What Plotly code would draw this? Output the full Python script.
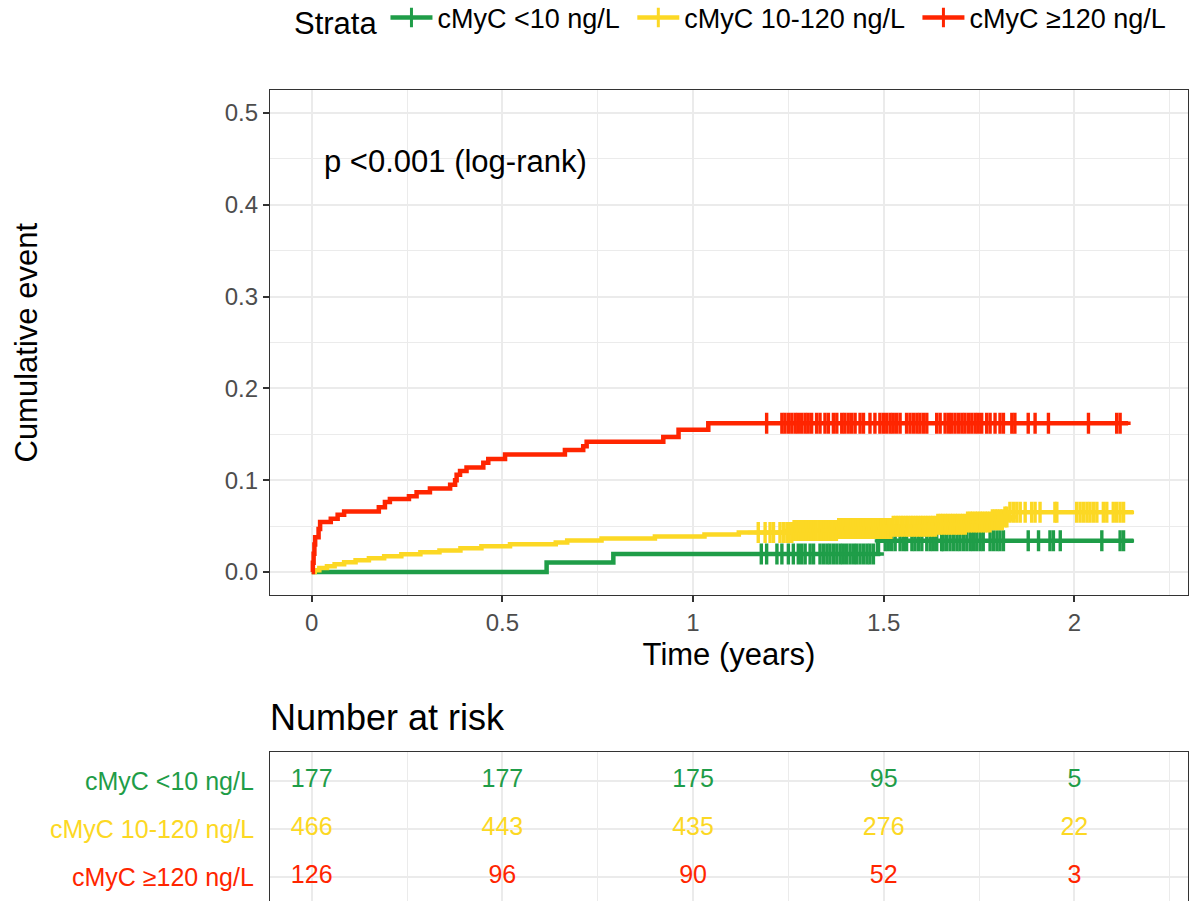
import numpy as np
import plotly.graph_objects as go

# ---- strata -------------------------------------------------------------
strata = ["cMyC <10 ng/L", "cMyC 10-120 ng/L", "cMyC ≥120 ng/L"]
colors = ["#1F9D48", "#FCD824", "#FF2500"]

# ---- cumulative event curves (event time, cumulative incidence) ---------
low_event_t = [0.616, 0.791, 1.485]
low_event_cum = [0.0103, 0.0196, 0.0340]
low_end = 2.155
low_censor = [1.179, 1.193, 1.220, 1.233, 1.250, 1.263, 1.276, 1.285, 1.294,
              1.307, 1.316, 1.333, 1.342, 1.351, 1.359, 1.368, 1.377, 1.386,
              1.394, 1.403, 1.412, 1.421, 1.429, 1.438, 1.447, 1.456, 1.464,
              1.473, 1.504, 1.512, 1.521, 1.530, 1.543, 1.552, 1.560, 1.574,
              1.582, 1.591, 1.600, 1.613, 1.622, 1.630, 1.639, 1.652, 1.656,
              1.665, 1.674, 1.683, 1.692, 1.700, 1.709, 1.718, 1.727, 1.735,
              1.744, 1.753, 1.761, 1.779, 1.788, 1.797, 1.805, 1.814, 1.879,
              1.906, 1.936, 1.945, 1.963, 2.072, 2.120, 2.129]

mid_event_t = [0.008, 0.020, 0.040, 0.060, 0.085, 0.115, 0.150, 0.190, 0.235,
               0.285, 0.335, 0.390, 0.445, 0.520, 0.640, 0.670, 0.760, 0.900,
               1.030, 1.120, 1.260, 1.380, 1.520, 1.640, 1.720, 1.780, 1.815,
               1.825]
mid_event_cum = [0.0021, 0.0043, 0.0064, 0.0086, 0.0107, 0.0129, 0.0150,
                 0.0172, 0.0193, 0.0215, 0.0236, 0.0258, 0.0280, 0.0302,
                 0.0323, 0.0345, 0.0366, 0.0388, 0.0410, 0.0431, 0.0453,
                 0.0475, 0.0498, 0.0521, 0.0545, 0.0570, 0.0600, 0.0650]
mid_end = 2.155
mid_censor = [1.171, 1.189, 1.202, 1.211, 1.228, 1.237, 1.246, 1.252, 1.259,
              1.265, 1.271, 1.278, 1.284, 1.291, 1.297, 1.304, 1.311, 1.317,
              1.323, 1.330, 1.337, 1.343, 1.350, 1.356, 1.362, 1.369, 1.376,
              1.382, 1.389, 1.395, 1.402, 1.408, 1.415, 1.421, 1.428, 1.434,
              1.441, 1.447, 1.454, 1.460, 1.467, 1.473, 1.480, 1.486, 1.493,
              1.499, 1.506, 1.512, 1.519, 1.525, 1.532, 1.538, 1.545, 1.551,
              1.558, 1.564, 1.571, 1.577, 1.584, 1.590, 1.597, 1.603, 1.610,
              1.616, 1.623, 1.629, 1.636, 1.642, 1.649, 1.655, 1.662, 1.668,
              1.675, 1.681, 1.688, 1.694, 1.701, 1.707, 1.714, 1.720, 1.727,
              1.733, 1.740, 1.746, 1.753, 1.759, 1.766, 1.772, 1.779, 1.785,
              1.792, 1.798, 1.805, 1.811, 1.818, 1.823, 1.831, 1.840, 1.849,
              1.858, 1.871, 1.888, 1.897, 1.910, 1.949, 1.954, 2.006, 2.015,
              2.024, 2.033, 2.041, 2.050, 2.059, 2.076, 2.085, 2.102, 2.111,
              2.120, 2.129]

high_event_t = [0.003, 0.005, 0.007, 0.009, 0.018, 0.022, 0.050, 0.068, 0.085,
                0.176, 0.192, 0.205, 0.255, 0.275, 0.310, 0.363, 0.376, 0.380,
                0.389, 0.406, 0.450, 0.463, 0.507, 0.664, 0.712, 0.721, 0.922,
                0.962, 1.040]
high_event_cum = [0.010, 0.020, 0.030, 0.038, 0.047, 0.0545, 0.058, 0.0625,
                  0.066, 0.0705, 0.0763, 0.0796, 0.0825, 0.087, 0.091, 0.095,
                  0.100, 0.106, 0.110, 0.114, 0.119, 0.123, 0.128, 0.133,
                  0.137, 0.142, 0.147, 0.155, 0.162]
high_end = 2.141
high_censor = [1.193, 1.233, 1.241, 1.250, 1.259, 1.268, 1.276, 1.285, 1.294,
               1.302, 1.311, 1.324, 1.333, 1.346, 1.355, 1.368, 1.377, 1.390,
               1.398, 1.407, 1.416, 1.425, 1.438, 1.447, 1.464, 1.477, 1.490,
               1.499, 1.508, 1.517, 1.525, 1.534, 1.543, 1.560, 1.569, 1.578,
               1.587, 1.595, 1.604, 1.613, 1.639, 1.648, 1.661, 1.670, 1.678,
               1.687, 1.696, 1.705, 1.713, 1.722, 1.731, 1.740, 1.748, 1.757,
               1.770, 1.779, 1.792, 1.805, 1.814, 1.836, 1.844, 1.879, 1.897,
               1.932, 2.037, 2.111, 2.120]

# ---- number at risk -----------------------------------------------------
risk_times = [0, 0.5, 1, 1.5, 2]
risk_low = [177, 177, 175, 95, 5]
risk_mid = [466, 443, 435, 276, 22]
risk_high = [126, 96, 90, 52, 3]

x_ticks = [0, 0.5, 1, 1.5, 2]
x_ticklabels = ["0", "0.5", "1", "1.5", "2"]
y_ticks = [0.0, 0.1, 0.2, 0.3, 0.4, 0.5]

FONT = "Liberation Sans, Arial, Helvetica, sans-serif"
GRID = "#EBEBEB"
BORDER = "#333333"
TICKTXT = "#4D4D4D"
NBSP = "\u00a0"

series = [
    (low_event_t, low_event_cum, low_end, low_censor),
    (mid_event_t, mid_event_cum, mid_end, mid_censor),
    (high_event_t, high_event_cum, high_end, high_censor),
]


def step_value(ev_t, ev_c, t):
    idx = np.searchsorted(np.asarray(ev_t), np.asarray(t), side="right") - 1
    cum = np.concatenate([[0.0], np.asarray(ev_c)])
    return cum[idx + 1]


fig = go.Figure()

# step curves
for (ev_t, ev_c, t_end, _), col in zip(series, colors):
    xs = [0.0] + list(ev_t) + [t_end]
    ys = [0.0] + list(ev_c) + [ev_c[-1]]
    fig.add_trace(go.Scatter(x=xs, y=ys, mode="lines", line_shape="hv",
                             line=dict(color=col, width=4.5),
                             showlegend=False, hoverinfo="skip"))

# censoring marks
for (ev_t, ev_c, _, cens), col in zip(series, colors):
    fig.add_trace(go.Scatter(x=cens, y=step_value(ev_t, ev_c, cens),
                             mode="markers",
                             marker=dict(symbol="cross-thin", size=15, color=col,
                                         line=dict(color=col, width=3.4)),
                             showlegend=False, hoverinfo="skip"))

# legend entries
for i, (name, col) in enumerate(zip(strata, colors)):
    pad = NBSP if i < len(strata) - 1 else ""
    fig.add_trace(go.Scatter(x=[None], y=[None], mode="lines+markers",
                             name=name + pad,
                             line=dict(color=col, width=4.5),
                             marker=dict(symbol="cross-thin", size=14, color=col,
                                         line=dict(color=col, width=3))))

# risk table
risk_rows = [risk_low, risk_mid, risk_high]
row_pos = [3, 2, 1]
for counts, col, yp in zip(risk_rows, colors, row_pos):
    fig.add_trace(go.Scatter(x=risk_times, y=[yp] * len(risk_times), mode="text",
                             text=[str(n) for n in counts],
                             textfont=dict(family=FONT, size=25, color=col),
                             xaxis="x2", yaxis="y2", showlegend=False,
                             hoverinfo="skip"))

x_range = [-0.1094, 2.298]

fig.update_layout(
    width=1189, height=901,
    margin=dict(l=270, r=1, t=90, b=0),
    paper_bgcolor="white", plot_bgcolor="white",
    font=dict(family=FONT, color="black"),
    xaxis=dict(domain=[0, 1], anchor="y", range=x_range,
               tickvals=x_ticks, ticktext=x_ticklabels,
               tickfont=dict(size=24, color=TICKTXT),
               ticks="outside", ticklen=6, tickwidth=1.5, tickcolor=BORDER,
               showgrid=True, gridcolor=GRID, gridwidth=1.6,
               minor=dict(dtick=0.25, tick0=0, showgrid=True, gridcolor=GRID,
                          gridwidth=1.0, ticks=""),
               showline=True, linecolor=BORDER, linewidth=1.2, mirror=True,
               zeroline=False,
               title=dict(text="Time (years)", font=dict(size=31),
                          standoff=8)),
    yaxis=dict(domain=[0.3773, 1], anchor="x", range=[-0.025, 0.525],
               tickvals=y_ticks, tickformat=".1f",
               tickfont=dict(size=24, color=TICKTXT),
               ticks="outside", ticklen=6, tickwidth=1.5, tickcolor=BORDER,
               showgrid=True, gridcolor=GRID, gridwidth=1.6,
               minor=dict(dtick=0.05, tick0=0, showgrid=True, gridcolor=GRID,
                          gridwidth=1.0, ticks=""),
               showline=True, linecolor=BORDER, linewidth=1.2, mirror=True,
               zeroline=False),
    xaxis2=dict(domain=[0, 1], anchor="y2", range=x_range,
                tickvals=x_ticks, showticklabels=False, ticks="",
                showgrid=True, gridcolor=GRID, gridwidth=1.6,
                minor=dict(dtick=0.25, tick0=0, showgrid=True, gridcolor=GRID,
                           gridwidth=1.0, ticks=""),
                showline=True, linecolor=BORDER, linewidth=1.2, mirror=True,
                zeroline=False),
    yaxis2=dict(domain=[0, 0.1837], anchor="x2", range=[0.5, 3.604],
                tickvals=row_pos, showticklabels=False, ticks="",
                showgrid=True, gridcolor=GRID, gridwidth=2.0,
                showline=True, linecolor=BORDER, linewidth=1.2, mirror=True,
                zeroline=False),
    legend=dict(orientation="h", x=(292 - 270) / 918, xanchor="left",
                yref="container", y=1 - 19 / 901, yanchor="middle",
                title=dict(text="Strata", font=dict(size=31), side="left"),
                font=dict(size=27), itemwidth=42, bgcolor="rgba(0,0,0,0)"),
    showlegend=True,
)

# y axis title
fig.add_annotation(text="Cumulative event", textangle=-90, showarrow=False,
                   xref="paper", x=-(270 - 27) / 918, xanchor="center",
                   yref="paper", y=(0.3773 + 1) / 2, yanchor="middle",
                   font=dict(size=31, color="black"))

# log-rank p-value
fig.add_annotation(text="p <0.001 (log-rank)", showarrow=False,
                   xref="x", x=0.027, xanchor="left",
                   yref="y", y=0.447, yanchor="middle",
                   font=dict(size=31, color="black"))

# risk table title
fig.add_annotation(text="Number at risk", showarrow=False,
                   xref="paper", x=0, xanchor="left", xshift=-2,
                   yref="paper", y=(901 - 717) / 811, yanchor="middle",
                   font=dict(size=36, color="black"))

# risk table row labels
for name, col, yp in zip(strata, colors, row_pos):
    fig.add_annotation(text=name, showarrow=False,
                       xref="paper", x=-14 / 918, xanchor="right",
                       yref="y2", y=yp, yanchor="middle",
                       font=dict(size=25, color=col))

fig.write_html("out.html")
